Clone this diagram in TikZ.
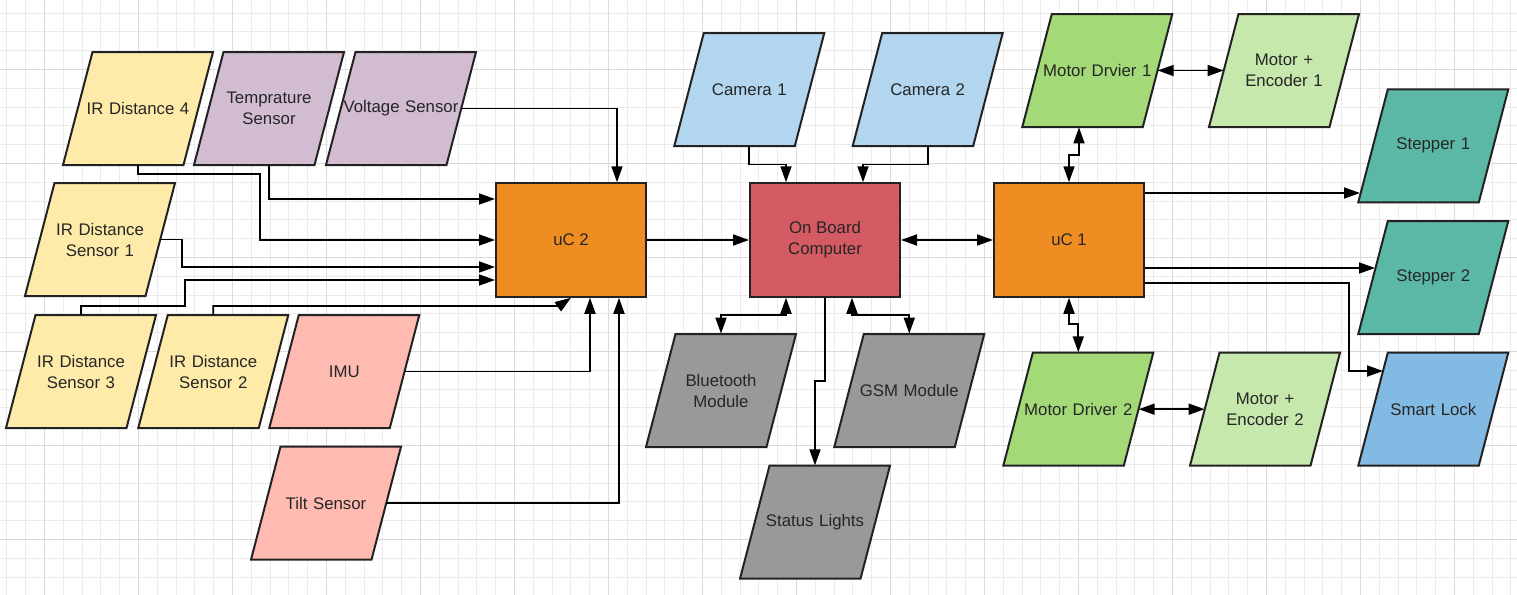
\documentclass[tikz,border=0pt]{standalone}
\usepackage{fontspec}
\setmainfont{Liberation Sans}
\usetikzlibrary{arrows.meta}
\definecolor{cyellow}{HTML}{FFEBA9}
\definecolor{cpurple}{HTML}{D1BCD2}
\definecolor{cpink}{HTML}{FFBBB1}
\definecolor{corange}{HTML}{EF8D22}
\definecolor{cred}{HTML}{D14F58}
\definecolor{ccam}{HTML}{B2D6EF}
\definecolor{cgray}{HTML}{999999}
\definecolor{cgreen}{HTML}{A3D977}
\definecolor{clgreen}{HTML}{C7E8AC}
\definecolor{cteal}{HTML}{5CB8A6}
\definecolor{cblue}{HTML}{83BAE3}
\definecolor{cborder}{HTML}{222222}
\definecolor{ctext}{HTML}{262626}
\definecolor{gridminor}{HTML}{EBEBEB}
\definecolor{gridmajor}{HTML}{DADADA}
\tikzset{
  shapeline/.style={draw=cborder, line width=1pt, line join=miter},
  paratext/.style={draw=none, inner sep=0pt, minimum width=60pt, minimum height=56.5pt, text width=60pt, align=center, text=ctext, font=\fontsize{8.4}{10.5}\selectfont},
  boxnode/.style={shapeline, inner sep=0pt, minimum width=75pt, minimum height=56.75pt, align=center, text=ctext, font=\fontsize{8.4}{10.5}\selectfont},
  arr/.style={draw=black, line width=0.9pt, -{Triangle[length=8pt,width=5.5pt]}},
  dbl/.style={draw=black, line width=0.9pt, {Triangle[length=8pt,width=5.5pt]}-{Triangle[length=8pt,width=5.5pt]}},
}
% #1 name, #2 bottom-left x, #3 top y, #4 fill, #5 text
\newcommand\paranode[5]{%
  \path[shapeline, fill=#4] (#2,#3+113) -- ++(120.5,0) -- ++(29.5,-113) -- ++(-120.5,0) -- cycle;
  \node[paratext] (#1) at (#2+75,#3+56.5) {#5};%
}
\begin{document}
\begin{tikzpicture}[x=0.5pt, y=-0.5pt]
\useasboundingbox (0,0) rectangle (1517,595);
\fill[white] (0,0) rectangle (1517,595);
% grid
\foreach \i in {0,...,80} {
  \draw[gridminor, line width=0.5pt] (6.9+18.8*\i,0) -- (6.9+18.8*\i,595);
}
\foreach \i in {0,...,31} {
  \draw[gridminor, line width=0.5pt] (0,13.1+18.8*\i) -- (1517,13.1+18.8*\i);
}
\foreach \i in {0,...,16} {
  \draw[gridmajor, line width=0.5pt] (44.5+94*\i,0) -- (44.5+94*\i,595);
}
\foreach \i in {0,...,6} {
  \draw[gridmajor, line width=0.5pt] (0,69.5+94*\i) -- (1517,69.5+94*\i);
}

% left sensors
\paranode{ir4}{63}{52}{cyellow}{IR Distance 4}
\paranode{temp}{194}{52}{cpurple}{Temprature\\Sensor}
\paranode{volt}{326}{52}{cpurple}{Voltage Sensor}
\paranode{ir1}{25}{183}{cyellow}{IR Distance\\Sensor 1}
\paranode{ir3}{6}{315}{cyellow}{IR Distance\\Sensor 3}
\paranode{ir2}{138.3}{315}{cyellow}{IR Distance\\Sensor 2}
\paranode{imu}{269.3}{315}{cpink}{IMU}
\paranode{tilt}{251}{446.7}{cpink}{Tilt Sensor}

% central
\node[boxnode, fill=corange] (uc2) at (571,240) {uC 2};
\node[boxnode, fill=cred, fill opacity=0.93, text opacity=1] (obc) at (825,240) {On Board\\Computer};
\node[boxnode, fill=corange] (uc1) at (1069,240) {uC 1};

\paranode{cam1}{674.3}{33}{ccam}{Camera 1}
\paranode{cam2}{852.7}{33}{ccam}{Camera 2}
\paranode{bt}{646}{334}{cgray}{Bluetooth\\Module}
\paranode{gsm}{834.3}{334}{cgray}{GSM Module}
\paranode{status}{740}{465.7}{cgray}{Status Lights}

% right
\paranode{md1}{1022.3}{14}{cgreen}{Motor Drvier 1}
\paranode{me1}{1209}{14}{clgreen}{Motor +\\Encoder 1}
\paranode{st1}{1358.3}{89.3}{cteal}{Stepper 1}
\paranode{st2}{1358.3}{221}{cteal}{Stepper 2}
\paranode{lock}{1358.3}{352.7}{cblue}{Smart Lock}
\paranode{md2}{1003.3}{352.7}{cgreen}{Motor Driver 2}
\paranode{me2}{1190}{352.7}{clgreen}{Motor +\\Encoder 2}

% connectors into uC 2
\draw[arr] (ir4.south) |- (260,174) |- (uc2.west);
\draw[arr] (temp.south) |- (uc2.west |- 0,199);
\draw[arr] (ir1.east) -| (182,267) -- (uc2.west |- 0,267);
\draw[arr] (ir3.north) |- (185,306) |- (uc2.west |- 0,280);
\draw[arr] (ir2.north) |- (559,306) -- (uc2.south);
\draw[arr] (imu.east) -| (590,0 |- uc2.south);
\draw[arr] (tilt.east) -| (619,0 |- uc2.south);
\draw[arr] (volt.east) -| (617,0 |- uc2.north);

% on board computer
\draw[arr] (uc2.east) -- (obc.west);
\draw[arr] (cam1.south) -- ++(0,18) -| (786,0 |- obc.north);
\draw[arr] (cam2.south) -- ++(0,18) -| (863,0 |- obc.north);
\draw[dbl] (obc.east) -- (uc1.west);
\draw[dbl] (786,0 |- obc.south) -- (786,315) -| (bt.north);
\draw[dbl] (852,0 |- obc.south) -- (852,315) -| (gsm.north);
\draw[arr] (obc.south) |- (815,381) -- (status.north);

% uC 1
\draw[dbl] (uc1.north) |- (1079,155) -- (1079,0 |- md1.south);
\draw[dbl] (md1.east) -- (me1.west);
\draw[arr] (uc1.east |- 0,193) -- (1360,193);
\draw[arr] (uc1.east |- 0,268) -- (1375,268);
\draw[arr] (uc1.east |- 0,283) -| (1349,371) -- (1383,371);
\draw[dbl] (uc1.south) |- (1078.3,324) -- (md2.north);
\draw[dbl] (md2.east) -- (me2.west);
\end{tikzpicture}
\end{document}
